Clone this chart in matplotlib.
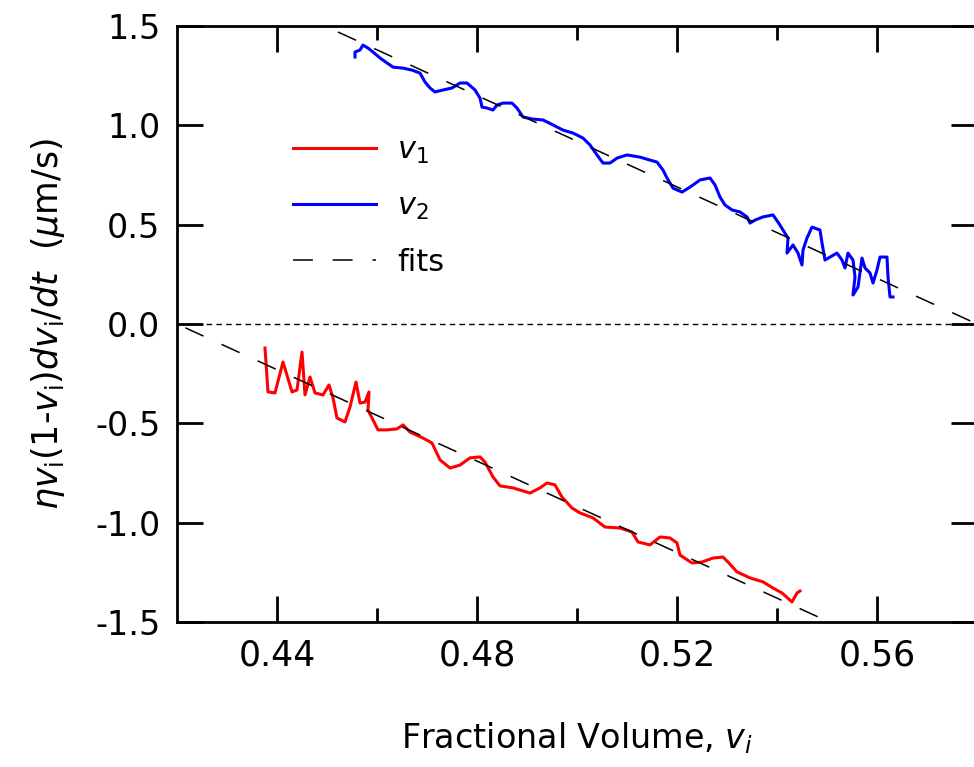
import matplotlib
matplotlib.use('Agg')
import matplotlib.pyplot as plt

plt.rcParams['mathtext.fontset'] = 'dejavusans'

# v1 trace (red): fractional volume, rate
v1_x = [0.4376, 0.4382, 0.4396, 0.4412, 0.4430, 0.4440, 0.4450, 0.4456, 0.4466, 0.4476,
        0.4492, 0.4504, 0.4512, 0.4520, 0.4536, 0.4546, 0.4558, 0.4566, 0.4576, 0.4584,
        0.4582, 0.4592, 0.4602, 0.4620, 0.4640, 0.4652, 0.4666, 0.4692, 0.4710, 0.4726,
        0.4746, 0.4766, 0.4786, 0.4806, 0.4816, 0.4832, 0.4846, 0.4872, 0.4906, 0.4926,
        0.4940, 0.4956, 0.4970, 0.4990, 0.5006, 0.5032, 0.5056, 0.5086, 0.5110, 0.5122,
        0.5146, 0.5166, 0.5186, 0.5200, 0.5206, 0.5230, 0.5250, 0.5272, 0.5292, 0.5302,
        0.5320, 0.5346, 0.5372, 0.5392, 0.5410, 0.5430, 0.5440, 0.5446]
v1_y = [-0.121, -0.342, -0.347, -0.191, -0.342, -0.332, -0.141, -0.357, -0.267, -0.347,
        -0.357, -0.307, -0.372, -0.473, -0.493, -0.418, -0.292, -0.398, -0.393, -0.342,
        -0.433, -0.483, -0.533, -0.533, -0.528, -0.508, -0.544, -0.574, -0.599, -0.684,
        -0.725, -0.710, -0.674, -0.669, -0.695, -0.770, -0.815, -0.825, -0.851, -0.825,
        -0.800, -0.810, -0.871, -0.926, -0.951, -0.976, -1.022, -1.027, -1.047, -1.097,
        -1.112, -1.072, -1.077, -1.102, -1.163, -1.203, -1.198, -1.178, -1.173, -1.198,
        -1.248, -1.278, -1.298, -1.329, -1.354, -1.399, -1.354, -1.344]

# v2 trace (blue)
v2_x = [0.4556, 0.4556, 0.4566, 0.4572, 0.4582, 0.4592, 0.4606, 0.4620, 0.4632, 0.4652,
        0.4670, 0.4686, 0.4696, 0.4706, 0.4716, 0.4732, 0.4750, 0.4766, 0.4780, 0.4796,
        0.4806, 0.4810, 0.4820, 0.4832, 0.4840, 0.4852, 0.4870, 0.4880, 0.4892, 0.4910,
        0.4932, 0.4952, 0.4972, 0.4992, 0.5012, 0.5026, 0.5040, 0.5052, 0.5066, 0.5080,
        0.5100, 0.5126, 0.5146, 0.5160, 0.5172, 0.5180, 0.5192, 0.5210, 0.5226, 0.5246,
        0.5266, 0.5276, 0.5286, 0.5296, 0.5310, 0.5326, 0.5340, 0.5346, 0.5356, 0.5372,
        0.5392, 0.5402, 0.5412, 0.5422, 0.5420, 0.5432, 0.5442, 0.5450, 0.5452, 0.5460,
        0.5470, 0.5486, 0.5490, 0.5496, 0.5506, 0.5520, 0.5530, 0.5536, 0.5542, 0.5552,
        0.5556, 0.5552, 0.5562, 0.5570, 0.5576, 0.5586, 0.5592, 0.5600, 0.5606, 0.5620,
        0.5622, 0.5626, 0.5632]
v2_y = [1.344, 1.369, 1.379, 1.404, 1.389, 1.369, 1.339, 1.314, 1.293, 1.288,
        1.278, 1.263, 1.218, 1.188, 1.168, 1.178, 1.188, 1.213, 1.213, 1.178,
        1.137, 1.092, 1.087, 1.077, 1.102, 1.112, 1.112, 1.087, 1.042, 1.032,
        1.027, 1.002, 0.976, 0.961, 0.936, 0.901, 0.851, 0.810, 0.810, 0.835,
        0.851, 0.840, 0.825, 0.815, 0.775, 0.735, 0.684, 0.664, 0.689, 0.725,
        0.735, 0.700, 0.639, 0.599, 0.574, 0.564, 0.539, 0.508, 0.523, 0.539,
        0.549, 0.513, 0.473, 0.433, 0.357, 0.398, 0.357, 0.297, 0.372, 0.433,
        0.488, 0.473, 0.408, 0.322, 0.337, 0.357, 0.322, 0.282, 0.357, 0.322,
        0.237, 0.146, 0.186, 0.332, 0.282, 0.257, 0.206, 0.272, 0.337, 0.337,
        0.237, 0.136, 0.136]

# linear fits: slope and x-intercept
fit_slope = -11.5
fit1_x0 = 0.42
fit2_x0 = 0.58
fit_x = [0.40, 0.60]

xticks = [0.44, 0.48, 0.52, 0.56]
yticks = [-1.5, -1.0, -0.5, 0.0, 0.5, 1.0, 1.5]

fig = plt.figure(figsize=(9.74, 7.67), dpi=100)
ax = fig.add_axes([177 / 974, 145 / 767, 800 / 974, 596 / 767])

ax.axhline(0, color='black', lw=1.0, dashes=(4, 3))
ax.plot(v1_x, v1_y, color='#ff0000', lw=2.2, label='$v_1$')
ax.plot(v2_x, v2_y, color='#0000ff', lw=2.2, label='$v_2$')
ax.plot(fit_x, [fit_slope * (x - fit1_x0) for x in fit_x], color='black', lw=1.1,
        dashes=(13, 13), label='fits')
ax.plot(fit_x, [fit_slope * (x - fit2_x0) for x in fit_x], color='black', lw=1.1,
        dashes=(13, 13))

ax.set_xlim(0.42, 0.58)
ax.set_ylim(-1.5, 1.5)
ax.set_xticks(xticks)
ax.set_xticklabels(['%.2f' % t for t in xticks])
ax.set_xticks([0.46, 0.50, 0.54], minor=True)
ax.set_yticks(yticks)
ax.set_yticklabels(['%.1f' % t for t in yticks])

for s in ax.spines.values():
    s.set_linewidth(2.0)
ax.tick_params(which='both', direction='in', top=True, right=True, width=2.0)
ax.tick_params(which='major', length=19, pad=12)
ax.tick_params(which='minor', length=10)
ax.tick_params(axis='y', labelsize=24)
ax.tick_params(axis='x', labelsize=25)

ax.set_xlabel('Fractional Volume, $v_i$', fontsize=24, labelpad=34)
ax.set_ylabel(r'$\eta v_{\mathrm{i}}$(1-$v_{\mathrm{i}}$)$dv_{\mathrm{i}}/dt$  ($\mu$m/s)',
              fontsize=25, labelpad=20)

ax.legend(loc='upper left', bbox_to_anchor=(0.145, 0.816), frameon=False, fontsize=22,
          handlelength=2.7, handletextpad=0.7, labelspacing=0.85, borderpad=0,
          borderaxespad=0)

fig.savefig('out.png', dpi=100)
